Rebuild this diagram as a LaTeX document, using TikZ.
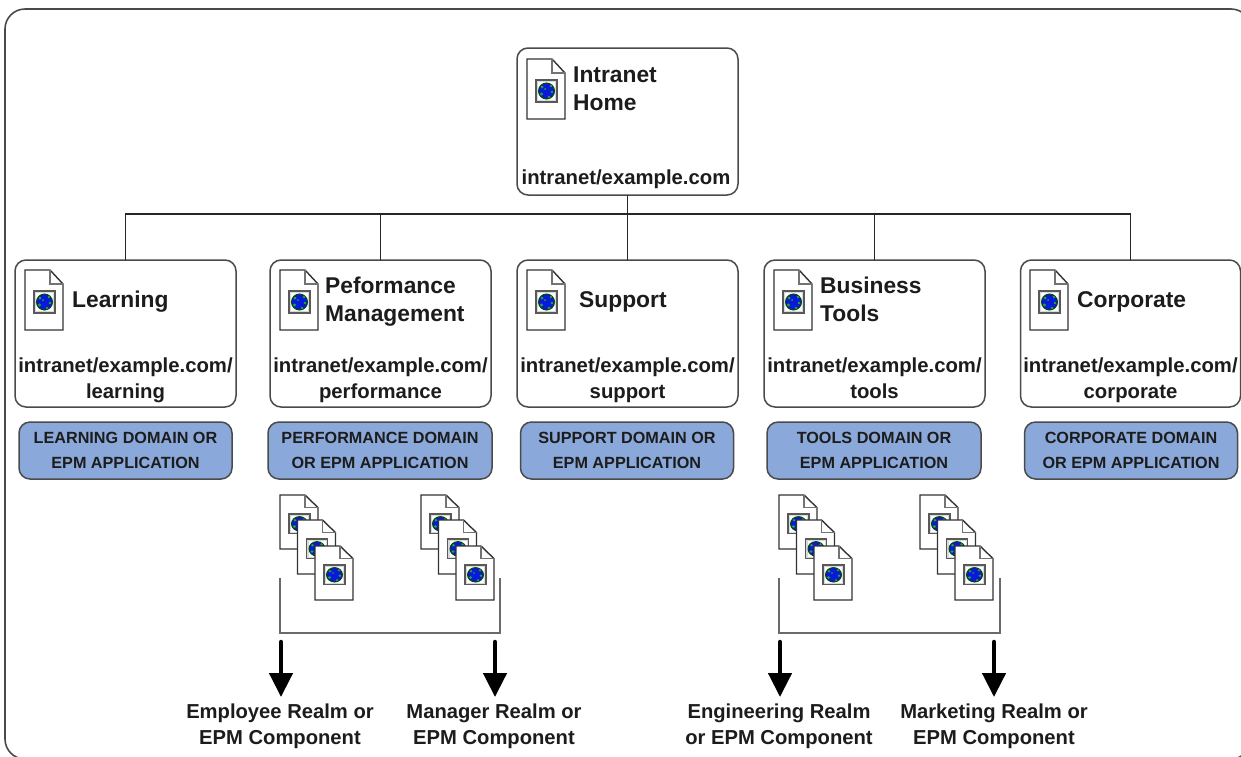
\documentclass[tikz,border=0pt]{standalone}
\usepackage{fontspec}
\setmainfont{Liberation Sans}
\usetikzlibrary{arrows.meta}
\definecolor{edgegray}{HTML}{4A4A4A}
\definecolor{bracketgray}{HTML}{6A6A6A}
\definecolor{domainblue}{HTML}{8AA9DA}
\definecolor{inktext}{HTML}{1C1C1C}
\definecolor{globeblue}{HTML}{0A18D8}
\definecolor{globegreen}{HTML}{1FA83A}
\tikzset{
  framebox/.style={draw=edgegray,line width=1.6pt,rounded corners=20pt},
  pagebox/.style={draw=edgegray,fill=white,line width=1.5pt,rounded corners=11pt,minimum width=221pt,minimum height=147pt,inner sep=0pt,outer sep=0pt},
  domainbox/.style={draw=edgegray,fill=domainblue,line width=1.5pt,rounded corners=11pt,minimum height=57pt,inner sep=0pt,outer sep=0pt,
     text=inktext,font=\bfseries\fontsize{16.2}{25}\selectfont,align=center,text depth=0pt},
  titletext/.style={text=inktext,font=\bfseries\fontsize{22.8}{27.5}\selectfont,align=left,inner sep=0pt,text depth=5pt},
  urltext/.style={text=inktext,font=\bfseries\fontsize{20.3}{26}\selectfont,align=center,inner sep=0pt,text depth=5pt},
  realmtext/.style={text=inktext,font=\bfseries\fontsize{20.2}{26}\selectfont,align=center,inner sep=0pt,text depth=5pt},
  treeline/.style={draw=black!85,line width=1.3pt},
  bracketline/.style={draw=bracketgray,line width=1.5pt},
  realmarrow/.style={draw=black,line width=4.5pt,line cap=round,-{Triangle[length=24pt,width=23pt]}},
}
\newcommand{\docicon}[3]{%
  \begin{scope}[shift={(#1,#2)},yscale=#3/60]
    \draw[draw=black!80,fill=white,line width=1.4pt,line join=miter] (0,0) -- (25,0) -- (38,14) -- (38,60) -- (0,60) -- cycle;
    \draw[draw=black!55,line width=1.2pt] (25,0) -- (25,14) -- (38,14);
    \draw[draw=black!65,fill=white!85!black,line width=1.3pt] (9,21) rectangle (30,43);
    \fill[fill=white] (11,23) rectangle (28,41);
    \draw[draw=black!70!green,fill=globeblue,line width=1pt] (19.5,32) circle [radius=8pt];
    \fill[globegreen] (15,28) circle [radius=1.5pt] (24,27) circle [radius=1.3pt] (25,33) circle [radius=1.4pt]
       (14.5,35) circle [radius=1.6pt] (22,38) circle [radius=1.3pt] (18,30) circle [radius=1pt];
  \end{scope}}
\newcommand{\docstack}[1]{%
  \begin{scope}[shift={(#1,0)}]
    \docicon{0}{495}{54}
    \docicon{17.5}{520}{54}
    \docicon{35}{546}{54}
  \end{scope}}
\begin{document}
\begin{tikzpicture}[x=1pt,y=-1pt]
  \useasboundingbox (0,0) rectangle (1241,756);
  \begin{scope}
    \clip (0,0) rectangle (1241,756);
    \draw[framebox] (5,9) rectangle (1251,759);
  \end{scope}

  % page boxes
  \node[pagebox] (home) at (627.5,121.5) {};
  \node[pagebox] (learning) at (125.5,333.5) {};
  \node[pagebox] (performance) at (380.5,333.5) {};
  \node[pagebox] (support) at (627.5,333.5) {};
  \node[pagebox] (tools) at (874.5,333.5) {};
  \node[pagebox,minimum width=220pt] (corporate) at (1130.5,333.5) {};

  % tree connectors
  \coordinate (bus) at (627.5,214);
  \draw[treeline] (home.south) -- (bus);
  \draw[treeline] (bus) -| (learning.north);
  \draw[treeline] (bus) -| (performance.north);
  \draw[treeline] (bus) -- (support.north);
  \draw[treeline] (bus) -| (tools.north);
  \draw[treeline] (bus) -| (corporate.north);

  % big icons
  \docicon{527}{59}{60}
  \docicon{25}{270}{60}
  \docicon{280}{270}{60}
  \docicon{527}{270}{60}
  \docicon{774}{270}{60}
  \docicon{1030}{270}{60}

  % titles
  \node[titletext,anchor=west] (homeTitle) at (573,91) {Intranet\\Home};
  \node[titletext,anchor=west] (learningTitle) at (72,302) {Learning};
  \node[titletext,anchor=west] (performanceTitle) at (325,301.5) {Peformance\\Management};
  \node[titletext,anchor=west] (supportTitle) at (579,302) {Support};
  \node[titletext,anchor=west] (toolsTitle) at (820,301.5) {Business\\Tools};
  \node[titletext,anchor=west] (corporateTitle) at (1077,302) {Corporate};

  % urls
  \node[urltext] (homeUrl) at (626,179.5) {intranet/example.com};
  \node[urltext] (learningUrl) at (125.5,381) {intranet/example.com/\\learning};
  \node[urltext] (performanceUrl) at (380.5,381) {intranet/example.com/\\performance};
  \node[urltext] (supportUrl) at (627.5,381) {intranet/example.com/\\support};
  \node[urltext] (toolsUrl) at (874.5,381) {intranet/example.com/\\tools};
  \node[urltext] (corporateUrl) at (1130.5,381) {intranet/example.com/\\corporate};

  % domain boxes
  \node[domainbox,minimum width=213pt] (learningDomain) at (125.5,450.5) {LEARNING DOMAIN OR\\EPM APPLICATION};
  \node[domainbox,minimum width=224pt] (performanceDomain) at (380,450.5) {PERFORMANCE DOMAIN\\OR EPM APPLICATION};
  \node[domainbox,minimum width=213pt] (supportDomain) at (627,450.5) {SUPPORT DOMAIN OR\\EPM APPLICATION};
  \node[domainbox,minimum width=214pt] (toolsDomain) at (874,450.5) {TOOLS DOMAIN OR\\EPM APPLICATION};
  \node[domainbox,minimum width=213pt] (corporateDomain) at (1131,450.5) {CORPORATE DOMAIN\\OR EPM APPLICATION};

  % icon stacks
  \docstack{280}
  \docstack{421}
  \docstack{779}
  \docstack{920}

  % brackets
  \coordinate (bracketAa) at (280,578);
  \coordinate (bracketAb) at (280,633);
  \coordinate (bracketAc) at (500,633);
  \coordinate (bracketAd) at (500,578);
  \draw[bracketline] (bracketAa) -- (bracketAb) -- (bracketAc) -- (bracketAd);
  \coordinate (bracketBa) at (779,578);
  \coordinate (bracketBb) at (779,633);
  \coordinate (bracketBc) at (1000,633);
  \coordinate (bracketBd) at (1000,578);
  \draw[bracketline] (bracketBa) -- (bracketBb) -- (bracketBc) -- (bracketBd);

  % realm labels
  \node[realmtext] (employee) at (280,727) {Employee Realm or\\EPM Component};
  \node[realmtext] (manager) at (494,727) {Manager Realm or\\EPM Component};
  \node[realmtext] (engineering) at (779,727) {Engineering Realm\\or EPM Component};
  \node[realmtext] (marketing) at (994,727) {Marketing Realm or\\EPM Component};

  % arrows
  \coordinate (arrowAs) at (281,642);
  \coordinate (arrowAe) at (281,697);
  \coordinate (arrowBs) at (495,642);
  \coordinate (arrowBe) at (495,697);
  \coordinate (arrowCs) at (780,642);
  \coordinate (arrowCe) at (780,697);
  \coordinate (arrowDs) at (994,642);
  \coordinate (arrowDe) at (994,697);
  \draw[realmarrow] (arrowAs) -- (arrowAe);
  \draw[realmarrow] (arrowBs) -- (arrowBe);
  \draw[realmarrow] (arrowCs) -- (arrowCe);
  \draw[realmarrow] (arrowDs) -- (arrowDe);
\end{tikzpicture}
\end{document}
